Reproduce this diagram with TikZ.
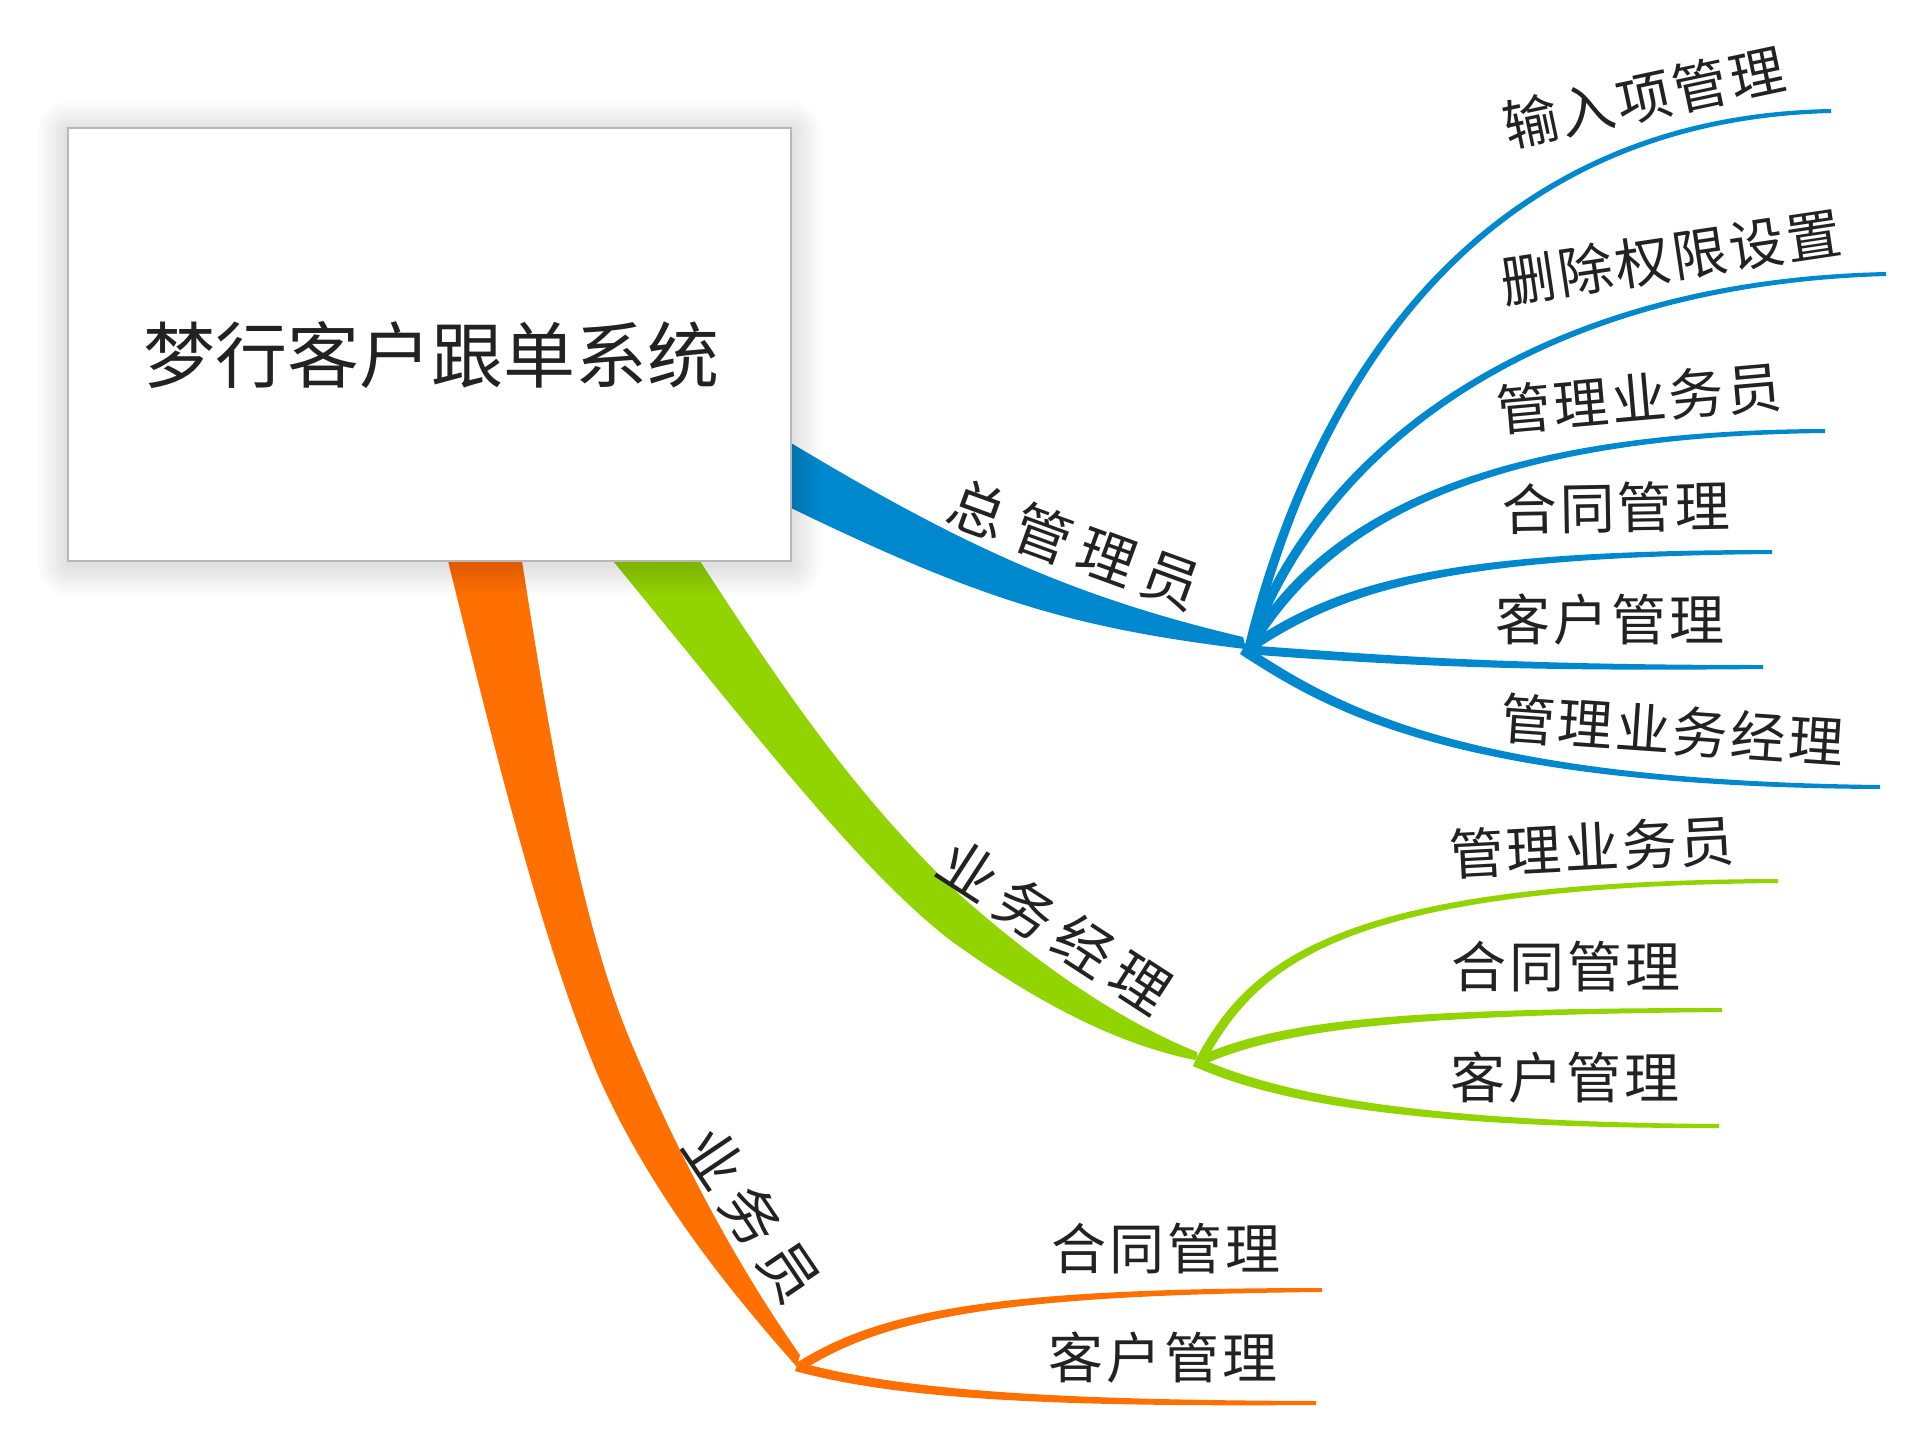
\documentclass[tikz,border=0pt]{standalone}
\usepackage{fontspec}
\usetikzlibrary{calc}

\newfontfamily\cjk{Noto Sans CJK SC}
\newfontfamily\cjkwide{Noto Sans CJK SC}[LetterSpace=18]
\newfontfamily\cjkleaf{Noto Sans CJK SC}[LetterSpace=5]

\definecolor{mapblue}{RGB}{0,136,206}
\definecolor{mapgreen}{RGB}{146,212,0}
\definecolor{maporange}{RGB}{255,112,0}
\definecolor{ink}{RGB}{34,34,34}

% tapered twig: colour, start, two controls, end, offset at the start
\newcommand{\twig}[6]{%
  \fill[#1] #2 .. controls #3 and #4 .. #5
    -- ($#5+(0,4)$) .. controls ($#4+(0,7)$) and ($#3+#6$) .. ($#2+#6$) -- cycle;}

\tikzset{
  rootbox/.style={draw=black!28, line width=0.8pt, fill=white, minimum width=361.5pt, minimum height=216.5pt, inner sep=0pt},
  title/.style={text=ink, font=\cjk\fontsize{36}{40}\selectfont, inner sep=0pt},
  mainlbl/.style={text=ink, font=\cjkwide\fontsize{29}{32}\selectfont, inner sep=0pt},
  leaflbl/.style={text=ink, font=\cjkleaf\fontsize{27.5}{30}\selectfont, inner sep=0pt}
}

\begin{document}
\begin{tikzpicture}[x=0.5pt, y=-0.5pt]
\useasboundingbox (0,0) rectangle (1920,1455);

\coordinate (bh) at (1245,645);
\coordinate (gh) at (1197,1057);
\coordinate (oh) at (798,1362);

% main branches
\fill[mapblue] (740,412) -- (791,443) .. controls (961,545) and (1073,597) .. (1243,637)
  -- (bh) -- (1245,649) .. controls (1073,628) and (981,600) .. (791,508) -- (740,484) -- cycle;
\fill[mapgreen] (600,545) -- (613,561) .. controls (760,740) and (860,870) .. (950,940)
  .. controls (1040,1005) and (1120,1045) .. (1195,1060) -- (gh) -- (1197,1052)
  .. controls (1130,1025) and (1050,975) .. (960,895) .. controls (860,800) and (790,700) .. (700,561)
  -- (690,545) -- cycle;
\fill[maporange] (444,545) -- (448,561) .. controls (490,730) and (540,940) .. (600,1080)
  .. controls (650,1190) and (720,1280) .. (797,1367) -- (oh) -- (800,1355)
  .. controls (740,1270) and (680,1160) .. (630,1040) .. controls (580,920) and (550,740) .. (522,561)
  -- (519,545) -- cycle;

% twigs
\twig{mapblue}{(bh)}{(1310,380)}{(1480,115)}{(1831,109)}{(9,3)}
\twig{mapblue}{(bh)}{(1310,460)}{(1520,280)}{(1886,272)}{(9,4)}
\twig{mapblue}{(bh)}{(1315,525)}{(1470,430)}{(1825,429)}{(8,7)}
\twig{mapblue}{(bh)}{(1340,580)}{(1450,550)}{(1772,550)}{(4,9)}
\twig{mapblue}{(bh)}{(1380,655)}{(1500,665)}{(1763,665)}{(0,9)}
\twig{mapblue}{(bh)}{(1330,700)}{(1450,780)}{(1880,785)}{(-5,9)}
\twig{mapgreen}{(gh)}{(1250,960)}{(1340,880)}{(1778,879)}{(8,5)}
\twig{mapgreen}{(gh)}{(1280,1020)}{(1400,1008)}{(1722,1008)}{(3,9)}
\twig{mapgreen}{(gh)}{(1270,1090)}{(1400,1122)}{(1719,1124)}{(-4,9)}
\twig{maporange}{(oh)}{(880,1310)}{(1000,1288)}{(1322,1288)}{(5,8)}
\twig{maporange}{(oh)}{(900,1390)}{(1050,1400)}{(1316,1401)}{(-3,9)}

% soft shadow and root
\foreach \i in {1,...,10}
  \fill[black, opacity=0.012, rounded corners=\i*1.5pt] ({68-3*\i},{132-3*\i}) rectangle ({791+3*\i},{565+3*\i});
\node[rootbox] (root) at (429.5,344.5) {};
\node[title] (name) at (431,355) {梦行客户跟单系统};

% branch labels
\node[mainlbl, rotate=-20] (admin) at (1075,545) {总管理员};
\node[mainlbl, rotate=-33] (mgr) at (1055,927) {业务经理};
\node[mainlbl, rotate=-56] (sales) at (752,1215) {业务员};

\node[leaflbl, rotate=12] (a1) at (1644,97) {输入项管理};
\node[leaflbl, rotate=8.5] (a2) at (1671,257) {删除权限设置};
\node[leaflbl, rotate=5] (a3) at (1639,398) {管理业务员};
\node[leaflbl, rotate=1] (a4) at (1616,508) {合同管理};
\node[leaflbl] (a5) at (1610,620) {客户管理};
\node[leaflbl, rotate=-4] (a6) at (1672,730) {管理业务经理};

\node[leaflbl, rotate=3] (m1) at (1592,847) {管理业务员};
\node[leaflbl] (m2) at (1566,967) {合同管理};
\node[leaflbl] (m3) at (1565,1078) {客户管理};

\node[leaflbl] (s1) at (1166,1249) {合同管理};
\node[leaflbl] (s2) at (1163,1357) {客户管理};
\end{tikzpicture}
\end{document}
